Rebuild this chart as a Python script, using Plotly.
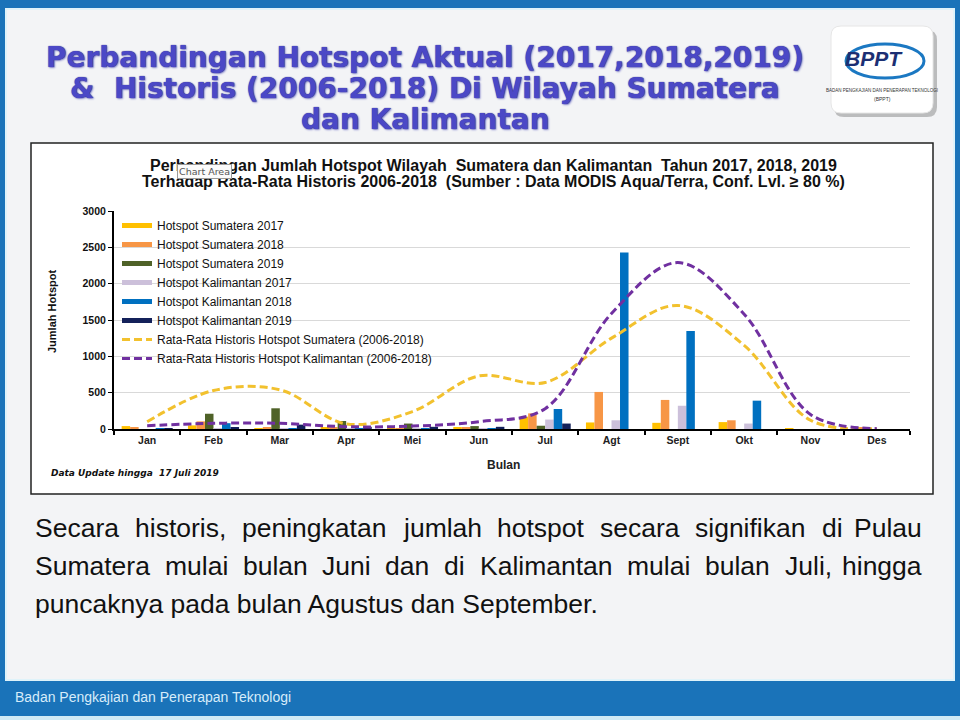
import plotly.graph_objects as go

# ---------------- data ----------------
months = ["Jan", "Feb", "Mar", "Apr", "Mei", "Jun", "Jul", "Agt", "Sept", "Okt", "Nov", "Des"]
sum2017 = [40, 50, 10, 20, 10, 25, 170, 90, 85, 95, 5, 20]
sum2018 = [20, 105, 15, 20, 10, 20, 215, 510, 400, 120, 0, 20]
sum2019 = [0, 210, 285, 110, 75, 40, 45, None, None, None, None, None]
kal2017 = [0, 10, 5, 5, 5, 5, 130, 120, 320, 75, 0, 0]
kal2018 = [5, 80, 5, 10, 5, 5, 275, 2430, 1350, 390, 0, 0]
kal2019 = [5, 25, 60, 30, 30, 30, 75, None, None, None, None, None]
hist_sum = [100, 530, 540, 70, 240, 730, 640, 1250, 1700, 1150, 120, 5]
hist_kal = [45, 78, 78, 32, 40, 100, 280, 1590, 2290, 1580, 200, 5]

bar_series = [
    ("Hotspot Sumatera 2017", sum2017, "#ffc000"),
    ("Hotspot Sumatera 2018", sum2018, "#f79646"),
    ("Hotspot Sumatera 2019", sum2019, "#4f6228"),
    ("Hotspot Kalimantan 2017", kal2017, "#ccc0da"),
    ("Hotspot Kalimantan 2018", kal2018, "#0070c0"),
    ("Hotspot Kalimantan 2019", kal2019, "#14215a"),
]
line_series = [
    ("Rata-Rata Historis Hotspot Sumatera (2006-2018)", hist_sum, "#f2c12e"),
    ("Rata-Rata Historis Hotspot Kalimantan (2006-2018)", hist_kal, "#7030a0"),
]

title_lines = [
    "Perbandingan Hotspot Aktual (2017,2018,2019)",
    "&  Historis (2006-2018) Di Wilayah Sumatera",
    "dan Kalimantan",
]
chart_title_lines = [
    "Perbandingan Jumlah Hotspot Wilayah  Sumatera dan Kalimantan  Tahun 2017, 2018, 2019",
    "Terhadap Rata-Rata Historis 2006-2018  (Sumber : Data MODIS Aqua/Terra, Conf. Lvl. \u2265 80 %)",
]
para_line1 = ["Secara", "historis,", "peningkatan", "jumlah", "hotspot", "secara", "signifikan", "di", "Pulau"]
para_line2 = ["Sumatera", "mulai", "bulan", "Juni", "dan", "di", "Kalimantan", "mulai", "bulan", "Juli,", "hingga"]
para_line3 = "puncaknya pada bulan Agustus dan September."

# ---------------- geometry helpers (pixel -> paper) ----------------
W, H = 960, 720
L, R, T, B = 114, 910, 211, 429


def px(x):
    return (x - L) / (R - L)


def py(y):
    return (B - y) / (B - T)


# approximate Arial/Liberation Sans advance widths (per 1000 em) for justification
AW = {c: 556 for c in "abdeghnopqu"}
AW.update({"c": 500, "k": 500, "s": 500, "y": 500, "v": 500, "x": 500, "z": 500,
           "f": 278, "t": 278, "i": 222, "j": 222, "l": 222, "m": 833, "r": 333, "w": 722,
           ",": 278, ".": 278, "S": 667, "P": 667, "K": 667, "A": 667, "J": 500})


def word_w(w, size):
    return sum(AW.get(c, 556) for c in w) * size / 1000.0


fig = go.Figure()

for name, vals, col in bar_series:
    fig.add_trace(go.Bar(x=months, y=vals, name=name, marker=dict(color=col, line=dict(width=0)),
                         showlegend=False))

# legend stand-ins for bar series (thick lines, like the original legend)
for name, vals, col in bar_series:
    fig.add_trace(go.Scatter(x=[None], y=[None], mode="lines", name=name,
                             line=dict(color=col, width=5)))

for name, vals, col in line_series:
    fig.add_trace(go.Scatter(x=months, y=vals, mode="lines", name=name,
                             line=dict(color=col, width=3, dash="8px,4px", shape="spline", smoothing=1.0)))

shapes = []
# slide body
shapes.append(dict(type="rect", xref="paper", yref="paper", x0=px(6), x1=px(954), y0=py(9), y1=py(680),
                   fillcolor="#f3f4f6", line=dict(color="#dff3fa", width=2), layer="below"))
# footer light strip
shapes.append(dict(type="rect", xref="paper", yref="paper", x0=px(0), x1=px(960), y0=py(716), y1=py(720),
                   fillcolor="#cfeaf5", line=dict(width=0), layer="below"))


def rrect(x0, y0, x1, y1, r):
    return (f"M {px(x0 + r)} {py(y0)} L {px(x1 - r)} {py(y0)} Q {px(x1)} {py(y0)} {px(x1)} {py(y0 + r)} "
            f"L {px(x1)} {py(y1 - r)} Q {px(x1)} {py(y1)} {px(x1 - r)} {py(y1)} "
            f"L {px(x0 + r)} {py(y1)} Q {px(x0)} {py(y1)} {px(x0)} {py(y1 - r)} "
            f"L {px(x0)} {py(y0 + r)} Q {px(x0)} {py(y0)} {px(x0 + r)} {py(y0)} Z")


# logo shadow + box + swoosh
shapes.append(dict(type="path", xref="paper", yref="paper", path=rrect(834, 30, 937, 117, 10),
                   fillcolor="rgba(120,120,120,0.45)", line=dict(width=0), layer="below"))
shapes.append(dict(type="path", xref="paper", yref="paper", path=rrect(831, 26, 933, 113, 10),
                   fillcolor="#ffffff", line=dict(color="#e6e6e6", width=1), layer="below"))
shapes.append(dict(type="circle", xref="paper", yref="paper", x0=px(846), x1=px(924), y0=py(44), y1=py(78),
                   fillcolor="rgba(0,0,0,0)", line=dict(color="#1b78c2", width=3), layer="below"))
# chart box
shapes.append(dict(type="rect", xref="paper", yref="paper", x0=px(31), x1=px(933), y0=py(143), y1=py(494),
                   fillcolor="#ffffff", line=dict(color="#222222", width=1.5), layer="below"))

ann = []
title_font = dict(family="DejaVu Sans", size=28, color="#4b48c6", weight="bold",
                  shadow="0px 0px 1px #1b1b70, 1px 1px 2px #8a8ad0")
for i, t in enumerate(title_lines):
    ann.append(dict(x=px(425), y=py(57 + i * 31.5), xref="paper", yref="paper", text=t, showarrow=False,
                    xanchor="center", yanchor="middle", font=title_font))

# logo texts
ann.append(dict(x=px(874), y=py(58), xref="paper", yref="paper", text="<b><i>BPPT</i></b>", showarrow=False,
                font=dict(family="Liberation Sans", size=21, color="#1c2f73"), xanchor="center", yanchor="middle"))
ann.append(dict(x=px(882), y=py(90), xref="paper", yref="paper",
                text="BADAN PENGKAJIAN DAN PENERAPAN TEKNOLOGI", showarrow=False,
                font=dict(family="Liberation Sans", size=4.5, color="#333333"),
                xanchor="center", yanchor="middle"))
ann.append(dict(x=px(882), y=py(99), xref="paper", yref="paper", text="(BPPT)", showarrow=False,
                font=dict(family="Liberation Sans", size=5, color="#333333"), xanchor="center", yanchor="middle"))

# chart title (two lines)
for i, t in enumerate(chart_title_lines):
    ann.append(dict(x=px(493), y=py(165 + i * 16.5), xref="paper", yref="paper", text=t, showarrow=False,
                    xanchor="center", yanchor="middle",
                    font=dict(family="Liberation Sans", size=16, color="#111111", weight="bold")))
# tooltip (present in the reference screenshot)
ann.append(dict(x=px(204), y=py(171.5), xref="paper", yref="paper", text="Chart Area", showarrow=False,
                xanchor="center", yanchor="middle", bgcolor="#fbfbfb", bordercolor="#9a9a9a", borderwidth=1,
                borderpad=1, font=dict(family="DejaVu Sans", size=9.5, color="#555555")))

# axis titles
ann.append(dict(x=px(503), y=py(465), xref="paper", yref="paper", text="Bulan", showarrow=False,
                xanchor="center", yanchor="middle",
                font=dict(family="Liberation Sans", size=12, color="#222222", weight="bold")))
ann.append(dict(x=px(52), y=py(312), xref="paper", yref="paper", text="Jumlah Hotspot", showarrow=False,
                textangle=-90, xanchor="center", yanchor="middle",
                font=dict(family="Liberation Sans", size=11, color="#111111", weight="bold")))
ann.append(dict(x=px(49), y=py(473), xref="paper", yref="paper", text="Data Update hingga  17 Juli 2019",
                showarrow=False, xanchor="left", yanchor="middle",
                font=dict(family="DejaVu Sans", size=9, color="#111111", weight="bold", style="italic")))

# paragraph: justified lines placed word by word
PSIZE = 26.5
pfont = dict(family="Liberation Sans", size=PSIZE, color="#111111")
LEFT_X, RIGHT_X = 33, 924
for words, yy in [(para_line1, 528), (para_line2, 566)]:
    widths = [word_w(w, PSIZE) for w in words]
    gap = (RIGHT_X - LEFT_X - sum(widths)) / (len(words) - 1)
    xx = LEFT_X
    for k, (w, ww) in enumerate(zip(words, widths)):
        if k == len(words) - 1:
            ann.append(dict(x=px(RIGHT_X), y=py(yy), xref="paper", yref="paper", text=w, showarrow=False,
                            xanchor="right", yanchor="middle", font=pfont))
        else:
            ann.append(dict(x=px(xx), y=py(yy), xref="paper", yref="paper", text=w, showarrow=False,
                            xanchor="left", yanchor="middle", font=pfont))
        xx += ww + gap
ann.append(dict(x=px(LEFT_X), y=py(604), xref="paper", yref="paper", text=para_line3, showarrow=False,
                xanchor="left", yanchor="middle", font=pfont))

# footer text
ann.append(dict(x=px(13), y=py(697), xref="paper", yref="paper",
                text="Badan Pengkajian dan Penerapan Teknologi", showarrow=False, xanchor="left",
                yanchor="middle",
                font=dict(family="Liberation Sans", size=14, color="#d6ecfa")))

fig.update_layout(
    width=W, height=H,
    margin=dict(l=L, r=W - R, t=T, b=H - B, pad=0),
    paper_bgcolor="#1a73b9",
    plot_bgcolor="rgba(0,0,0,0)",
    barmode="group", bargap=0.23, bargroupgap=0,
    shapes=shapes, annotations=ann,
    legend=dict(x=px(117), y=py(211), xanchor="left", yanchor="top", bgcolor="rgba(0,0,0,0)",
                font=dict(family="Liberation Sans", size=12, color="#111111"), itemwidth=30,
                tracegroupgap=0, traceorder="normal"),
    xaxis=dict(type="category", showline=True, linecolor="#000000", linewidth=2, ticks="outside",
               tickson="boundaries", ticklen=4, tickwidth=1.5, tickcolor="#000000", showgrid=False,
               tickfont=dict(family="Liberation Sans", size=10.5, color="#222222", weight="bold")),
    yaxis=dict(range=[0, 3000], dtick=500, showline=True, linecolor="#000000", linewidth=2,
               ticks="outside", ticklen=4, tickcolor="#000000", gridcolor="#d9d9d9", gridwidth=1,
               zeroline=False,
               tickfont=dict(family="Liberation Sans", size=10.5, color="#111111", weight="bold")),
)

fig.write_html("out.html", config={"displayModeBar": False},
               post_script="document.body.style.margin='0px';")
